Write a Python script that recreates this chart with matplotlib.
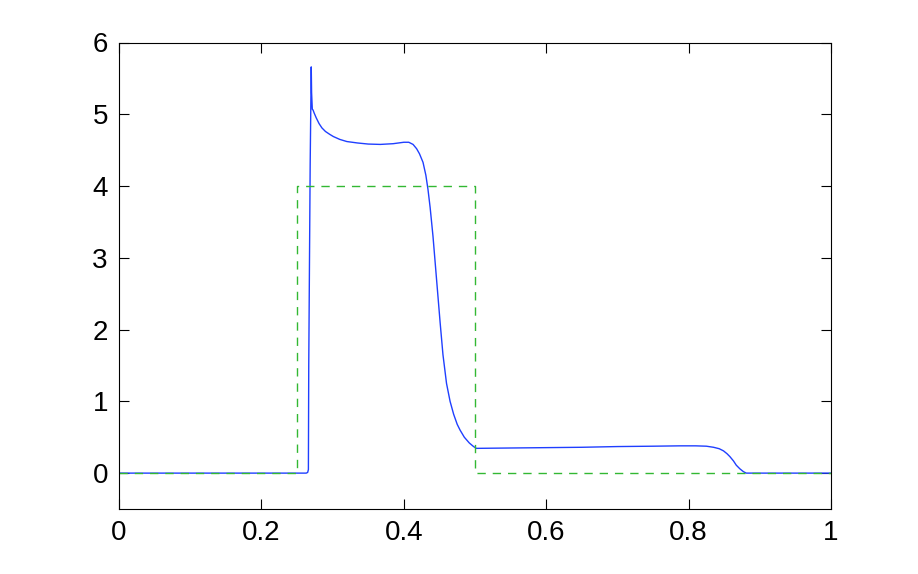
import matplotlib
matplotlib.use("Agg")
import matplotlib.pyplot as plt

# computed solution (blue)
x_sol = [0.0, 0.263, 0.265, 0.266, 0.2665, 0.2685, 0.270, 0.2705, 0.2715, 0.2725, 0.274,
         0.277, 0.281, 0.285, 0.290, 0.296, 0.301, 0.310, 0.320, 0.335, 0.350, 0.367,
         0.385, 0.400, 0.407, 0.413, 0.418, 0.422, 0.427, 0.431, 0.434, 0.437, 0.441,
         0.446, 0.451, 0.455, 0.460, 0.465, 0.470, 0.475, 0.479, 0.485, 0.492, 0.498,
         0.502, 0.55, 0.60, 0.65, 0.70, 0.75, 0.788, 0.81, 0.825, 0.835, 0.843, 0.849,
         0.854, 0.858, 0.863, 0.867, 0.872, 0.877, 0.881, 0.89, 1.0]
y_sol = [0.0, 0.0, 0.01, 0.05, 1.5, 4.3, 5.66, 5.3, 5.07, 5.06, 5.02,
         4.95, 4.87, 4.81, 4.76, 4.72, 4.69, 4.65, 4.62, 4.60, 4.585, 4.58,
         4.59, 4.61, 4.61, 4.58, 4.52, 4.45, 4.33, 4.15, 3.95, 3.70, 3.30,
         2.70, 2.10, 1.65, 1.25, 1.00, 0.82, 0.68, 0.60, 0.50, 0.42, 0.37,
         0.345, 0.35, 0.355, 0.36, 0.37, 0.375, 0.38, 0.38, 0.375, 0.36, 0.34, 0.31,
         0.27, 0.23, 0.17, 0.11, 0.06, 0.02, 0.0, 0.0, 0.0]

# exact solution (green dashed)
x_exact = [0.0, 0.25, 0.25, 0.5, 0.5, 1.0]
y_exact = [0.0, 0.0, 4.0, 4.0, 0.0, 0.0]

plt.rcParams['font.family'] = ['Liberation Sans', 'DejaVu Sans']

fig = plt.figure(figsize=(9.18, 5.74), dpi=100)
ax = fig.add_axes([119 / 918, 1 - 509 / 574, 712 / 918, 466.5 / 574])
ax.plot(x_sol, y_sol, color="#1f3fff", linewidth=1.0)
ax.plot(x_exact, y_exact, color="#33b833", linewidth=1.0, linestyle=(0, (6, 5)))
ax.set_xlim(0, 1)
ax.set_ylim(-0.5, 6)
ax.set_xticks([0, 0.2, 0.4, 0.6, 0.8, 1])
ax.set_xticklabels(["0", "0.2", "0.4", "0.6", "0.8", "1"])
ax.set_yticks([0, 1, 2, 3, 4, 5, 6])
ax.tick_params(direction="in", length=7, width=0.8, labelsize=20, pad=8,
               top=True, right=True, colors="black")
for s in ax.spines.values():
    s.set_linewidth(0.8)
fig.savefig("out.png", dpi=100)
